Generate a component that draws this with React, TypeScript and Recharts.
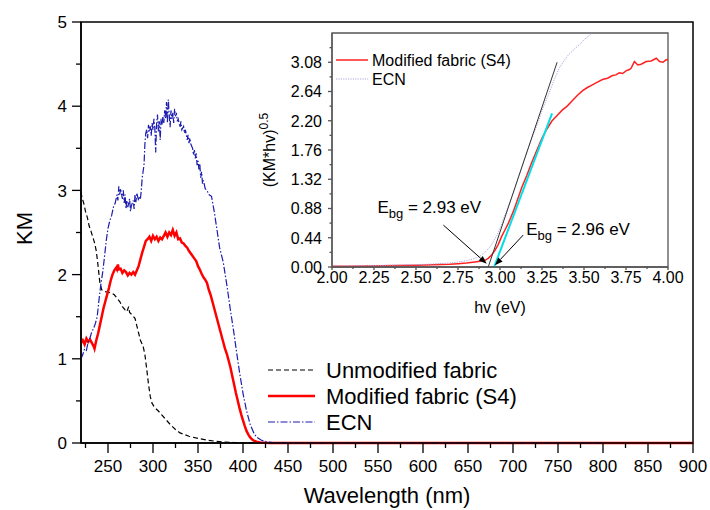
import { LineChart, Line, XAxis, YAxis, ReferenceArea, ReferenceLine, Legend, Label } from 'recharts';

const FONT = '"Liberation Sans", Arial, sans-serif';

// ---- main plot: KM vs wavelength ----
const wavelengthTicks = [250, 300, 350, 400, 450, 500, 550, 600, 650, 700, 750, 800, 850, 900];
const wavelengthMinorTicks = [225, 275, 325, 375, 425, 475, 525, 575, 625, 675, 725, 775, 825, 875];
const kmTicks = [0, 1, 2, 3, 4, 5];
const kmMinorTicks = [0.5, 1.5, 2.5, 3.5, 4.5];

// [wavelength nm, KM]
const unmodifiedFabric: [number, number][] = [
  [220, 2.98], [221, 2.92], [223, 2.85], [225, 2.75], [227, 2.68], [229, 2.58], [231, 2.52], [233, 2.45],
  [235, 2.38], [237, 2.28], [239, 2.1], [241, 1.9], [243, 1.82], [246, 1.8], [250, 1.79], [254, 1.78],
  [257, 1.76], [260, 1.72], [263, 1.68], [266, 1.62], [269, 1.58], [271, 1.56], [273, 1.62], [274, 1.55],
  [277, 1.52], [280, 1.48], [283, 1.35], [286, 1.22], [289, 1.15], [291, 1.05], [293, 0.88], [295, 0.7],
  [297, 0.55], [299, 0.47], [302, 0.42], [306, 0.38], [310, 0.33], [315, 0.27], [320, 0.21], [325, 0.16],
  [330, 0.12], [335, 0.1], [340, 0.08], [350, 0.055], [360, 0.035], [370, 0.02], [380, 0.012], [390, 0.006],
  [400, 0.003], [420, 0.001], [440, 0], [800, 0],
];

const modifiedFabric: [number, number][] = [
  [220, 1.19], [222, 1.22], [224, 1.17], [226, 1.24], [228, 1.2], [230, 1.23], [232, 1.19], [234, 1.15],
  [235, 1.12], [236, 1.17], [237, 1.22], [239, 1.3], [241, 1.4], [243, 1.5], [245, 1.6], [247, 1.68],
  [249, 1.76], [251, 1.84], [253, 1.93], [255, 2.0], [257, 2.05], [259, 2.08], [260, 2.06], [261, 2.12],
  [262, 2.06], [264, 2.07], [266, 2.02], [268, 2.05], [270, 2.03], [272, 1.99], [274, 2.02], [276, 2.0],
  [278, 2.03], [280, 2.0], [282, 2.05], [284, 2.1], [286, 2.18], [288, 2.26], [290, 2.33], [292, 2.4],
  [294, 2.42], [296, 2.45], [298, 2.4], [300, 2.46], [302, 2.42], [304, 2.45], [306, 2.4], [308, 2.44],
  [310, 2.42], [312, 2.46], [314, 2.5], [316, 2.45], [318, 2.5], [320, 2.47], [322, 2.53], [324, 2.46],
  [326, 2.5], [328, 2.42], [330, 2.43], [332, 2.38], [334, 2.37], [336, 2.34], [338, 2.32], [340, 2.28],
  [342, 2.25], [344, 2.22], [346, 2.19], [348, 2.16], [350, 2.1], [352, 2.06], [354, 2.01], [356, 1.97],
  [358, 1.94], [360, 1.9], [362, 1.82], [364, 1.76], [366, 1.68], [368, 1.6], [370, 1.52], [372, 1.44],
  [374, 1.36], [376, 1.28], [378, 1.2], [380, 1.12], [382, 1.06], [384, 0.98], [386, 0.9], [388, 0.8],
  [390, 0.7], [392, 0.6], [394, 0.51], [396, 0.42], [398, 0.34], [400, 0.27], [402, 0.2], [404, 0.14],
  [406, 0.1], [408, 0.066], [410, 0.044], [412, 0.028], [415, 0.015], [419, 0.006], [425, 0.002], [430, 0],
  [900, 0],
];

const ecn: [number, number][] = [
  [220, 1.0], [222, 1.05], [224, 1.12], [226, 1.1], [228, 1.2], [230, 1.25], [232, 1.32], [234, 1.36],
  [236, 1.42], [238, 1.5], [240, 1.7], [242, 1.88], [244, 2.02], [246, 2.2], [248, 2.4], [250, 2.55],
  [252, 2.64], [254, 2.7], [256, 2.8], [258, 2.85], [260, 2.95], [261, 2.88], [262, 3.05], [263, 2.95],
  [264, 3.02], [266, 2.9], [267, 3.0], [268, 2.85], [269, 2.95], [270, 2.78], [271, 2.88], [272, 2.8],
  [274, 2.9], [275, 2.75], [276, 2.82], [278, 2.88], [279, 2.78], [280, 2.95], [281, 2.86], [282, 2.97],
  [284, 2.88], [285, 2.92], [286, 2.9], [287, 3.0], [288, 3.15], [290, 3.3], [291, 3.55], [292, 3.68],
  [293, 3.72], [294, 3.62], [295, 3.78], [296, 3.7], [297, 3.76], [298, 3.65], [299, 3.8], [300, 3.72],
  [301, 3.85], [302, 3.75], [303, 3.45], [304, 3.8], [305, 3.9], [306, 3.7], [307, 3.82], [308, 3.6],
  [309, 3.85], [310, 3.78], [311, 3.88], [312, 3.8], [313, 3.95], [314, 3.85], [315, 4.05], [316, 3.8],
  [317, 4.08], [318, 3.9], [319, 3.75], [320, 3.95], [321, 3.85], [322, 3.92], [323, 3.8], [324, 3.97],
  [325, 3.88], [326, 3.92], [327, 3.82], [328, 3.85], [330, 3.75], [331, 3.82], [332, 3.72], [334, 3.76],
  [335, 3.68], [336, 3.72], [338, 3.6], [339, 3.66], [340, 3.56], [341, 3.62], [342, 3.55], [344, 3.5],
  [345, 3.42], [346, 3.48], [347, 3.38], [348, 3.44], [349, 3.3], [350, 3.35], [351, 3.25], [352, 3.32],
  [353, 3.15], [354, 3.22], [355, 3.08], [356, 3.12], [358, 3.02], [360, 3.0], [362, 2.95], [365, 2.93],
  [368, 2.75], [371, 2.54], [374, 2.32], [378, 2.15], [382, 1.88], [386, 1.58], [390, 1.3], [393, 1.07],
  [396, 0.85], [400, 0.59], [404, 0.38], [408, 0.22], [412, 0.12], [415, 0.07], [420, 0.035], [426, 0.015],
  [435, 0.003], [450, 0], [800, 0],
];

// ---- inset: (KM*hv)^0.5 vs hv ----
const hvTicks = [2, 2.25, 2.5, 2.75, 3, 3.25, 3.5, 3.75, 4];
const hvMinorTicks = [2.125, 2.375, 2.625, 2.875, 3.125, 3.375, 3.625, 3.875];
const taucTicks = [0, 0.44, 0.88, 1.32, 1.76, 2.2, 2.64, 3.08];
const taucMinorTicks = [0.22, 0.66, 1.1, 1.54, 1.98, 2.42, 2.86, 3.3];

const insetModified: [number, number][] = [
  [2.0, 0.01], [2.1, 0.012], [2.2, 0.015], [2.3, 0.018], [2.4, 0.022], [2.5, 0.027], [2.6, 0.033],
  [2.7, 0.042], [2.75, 0.05], [2.8, 0.06], [2.85, 0.075], [2.88, 0.085], [2.91, 0.1], [2.93, 0.13],
  [2.95, 0.18], [2.97, 0.25], [2.99, 0.34], [3.01, 0.46], [3.03, 0.56], [3.05, 0.66], [3.08, 0.84],
  [3.1, 0.98], [3.13, 1.2], [3.16, 1.38], [3.19, 1.58], [3.22, 1.76], [3.25, 1.94], [3.28, 2.08],
  [3.31, 2.2], [3.34, 2.28], [3.37, 2.36], [3.4, 2.42], [3.43, 2.5], [3.46, 2.58], [3.49, 2.65],
  [3.52, 2.7], [3.55, 2.74], [3.58, 2.78], [3.61, 2.82], [3.64, 2.84], [3.67, 2.88], [3.69, 2.89],
  [3.71, 2.92], [3.73, 2.91], [3.75, 2.95], [3.77, 2.97], [3.78, 2.99], [3.8, 3.09], [3.82, 3.04],
  [3.84, 3.05], [3.87, 3.09], [3.9, 3.1], [3.93, 3.14], [3.95, 3.09], [3.97, 3.08], [3.99, 3.12], [4.0, 3.11],
];

const insetEcn: [number, number][] = [
  [2.0, 0.012], [2.2, 0.02], [2.4, 0.03], [2.5, 0.035], [2.6, 0.045], [2.7, 0.06], [2.75, 0.075],
  [2.8, 0.095], [2.84, 0.12], [2.88, 0.16], [2.91, 0.22], [2.94, 0.3], [2.96, 0.38], [2.98, 0.47],
  [3.0, 0.58], [3.02, 0.72], [3.05, 0.92], [3.08, 1.12], [3.11, 1.36], [3.14, 1.58], [3.17, 1.8],
  [3.2, 2.0], [3.23, 2.2], [3.26, 2.42], [3.29, 2.6], [3.32, 2.8], [3.35, 2.98], [3.38, 3.1],
  [3.41, 3.2], [3.44, 3.27], [3.46, 3.32], [3.48, 3.36], [3.5, 3.42], [3.52, 3.46], [3.54, 3.5], [3.55, 3.52],
];

// linear fits used for the band gap
const ecnTangent: [number, number][] = [[2.93, 0], [3.34, 3.08]];
const s4Tangent: [number, number][] = [[2.965, 0], [3.31, 2.31]];

const bandGapValues = ['2.93', '2.96'];
const bandGapArrows: [number, number][][] = [
  [[2.663, 0.63], [2.921, 0.05]],
  [[3.138, 0.48], [2.97, 0.026]],
];
const bandGapTextOffsets = [[-66, -12], [3, 0]];

const toPoints = (arr: [number, number][]) => arr.map(([x, y]) => ({ x, y }));

const near = (list: number[], v: number) => list.some((t) => Math.abs(t - v) < 1e-6);

const mainSeries = [
  { name: 'Unmodified fabric', data: unmodifiedFabric, color: '#000000', width: 1.2, dash: '5 3' },
  { name: 'Modified fabric (S4)', data: modifiedFabric, color: '#ff0000', width: 2.5, dash: undefined },
  { name: 'ECN', data: ecn, color: '#1c1cb0', width: 1.2, dash: '7 2 1.5 2' },
];

const insetSeries = [
  { name: 'Modified fabric (S4)', data: insetModified, color: '#ff2020', width: 1.5, dash: undefined },
  { name: 'ECN', data: insetEcn, color: '#a8a8e0', width: 1, dash: '1.2 1.2' },
];

function makeBottomTick(majors: number[], size: number, margin: number, majorLen: number, minorLen: number,
  fontSize: number, color: string, fmt: (v: number) => string) {
  return (props: any) => {
    const { x, y, payload } = props;
    const axisY = y - size - margin;
    const major = near(majors, payload.value);
    return (
      <g>
        <line x1={x} x2={x} y1={axisY} y2={axisY + (major ? majorLen : minorLen)} stroke={color} strokeWidth={1.3} />
        {major && (
          <text x={x} y={y} dy="0.71em" textAnchor="middle" fontSize={fontSize} fontFamily={FONT} fill="#000">
            {fmt(payload.value)}
          </text>
        )}
      </g>
    );
  };
}

function makeLeftTick(majors: number[], size: number, margin: number, majorLen: number, minorLen: number,
  fontSize: number, color: string, fmt: (v: number) => string) {
  return (props: any) => {
    const { x, y, payload } = props;
    const axisX = x + size + margin;
    const major = near(majors, payload.value);
    return (
      <g>
        <line x1={axisX} x2={axisX - (major ? majorLen : minorLen)} y1={y} y2={y} stroke={color} strokeWidth={1.3} />
        {major && (
          <text x={x} y={y} dy="0.36em" textAnchor="end" fontSize={fontSize} fontFamily={FONT} fill="#000">
            {fmt(payload.value)}
          </text>
        )}
      </g>
    );
  };
}

const MainXTick = makeBottomTick(wavelengthTicks, 10, 7, 10, 5, 17, '#000', (v) => String(v));
const MainYTick = makeLeftTick(kmTicks, 9, 5, 9, 5, 17, '#000', (v) => String(v));
const InsetXTick = makeBottomTick(hvTicks, 3, 2, 3, 2, 16, '#555', (v) => v.toFixed(2));
const InsetYTick = makeLeftTick(taucTicks, 4, 6, 4, 2.5, 16, '#555', (v) => v.toFixed(2));

function MainLegend() {
  return (
    <svg width={260} height={80}>
      {mainSeries.map((s, i) => (
        <g key={s.name} transform={`translate(0, ${14 + i * 26})`}>
          <line x1={0} x2={47} y1={0} y2={0} stroke={s.color} strokeWidth={s.width} strokeDasharray={s.dash} />
          <text x={58} y={0} dy="0.35em" fontSize={22} fontFamily={FONT} fill="#000">{s.name}</text>
        </g>
      ))}
    </svg>
  );
}

function InsetLegend() {
  return (
    <svg width={220} height={45}>
      {insetSeries.map((s, i) => (
        <g key={s.name} transform={`translate(0, ${10 + i * 19})`}>
          <line x1={0} x2={32} y1={0} y2={0} stroke={s.color} strokeWidth={s.width} strokeDasharray={s.dash} />
          <text x={36} y={0} dy="0.35em" fontSize={16} fontFamily={FONT} fill="#000">{s.name}</text>
        </g>
      ))}
    </svg>
  );
}

const arrowShape = (i: number) => (props: any) => {
  const x1 = Number(props.x1), y1 = Number(props.y1), x2 = Number(props.x2), y2 = Number(props.y2);
  const ang = Math.atan2(y2 - y1, x2 - x1);
  const L = 8, W = 3;
  const bx = x2 - L * Math.cos(ang), by = y2 - L * Math.sin(ang);
  const pts = `${x2},${y2} ${bx - W * Math.sin(ang)},${by + W * Math.cos(ang)} ${bx + W * Math.sin(ang)},${by - W * Math.cos(ang)}`;
  const [dx, dy] = bandGapTextOffsets[i];
  return (
    <g>
      <line x1={x1} y1={y1} x2={bx} y2={by} stroke="#000" strokeWidth={1} />
      <polygon points={pts} fill="#000" />
      <text x={x1 + dx} y={y1 + dy} fontSize={17} fontFamily={FONT} fill="#000">
        E<tspan dy={5} fontSize={13}>bg</tspan><tspan dy={-5}>{` = ${bandGapValues[i]} eV`}</tspan>
      </text>
    </g>
  );
};

export default function App() {
  return (
    <div style={{ position: 'absolute', left: 0, top: 0, width: 710, height: 510, background: '#fff' }}>
      <LineChart width={710} height={510} margin={{ top: 22, right: 17, left: 0, bottom: 0 }}>
        <XAxis
          dataKey="x"
          type="number"
          domain={[220, 900]}
          ticks={[...wavelengthTicks, ...wavelengthMinorTicks].sort((a, b) => a - b)}
          interval={0}
          tickLine={false}
          tickSize={10}
          tickMargin={7}
          tick={MainXTick}
          axisLine={{ stroke: '#000', strokeWidth: 1.5 }}
          height={67}
        >
          <Label
            content={(p: any) => {
              const vb = p.viewBox;
              return (
                <text x={vb.x + vb.width / 2} y={vb.y + vb.height - 7} textAnchor="middle" fontSize={22} fontFamily={FONT} fill="#000">
                  Wavelength (nm)
                </text>
              );
            }}
          />
        </XAxis>
        <YAxis
          type="number"
          domain={[0, 5]}
          ticks={[...kmTicks, ...kmMinorTicks].sort((a, b) => a - b)}
          interval={0}
          tickLine={false}
          tickSize={9}
          tickMargin={5}
          tick={MainYTick}
          axisLine={{ stroke: '#000', strokeWidth: 1.5 }}
          width={81}
        >
          <Label
            content={(p: any) => {
              const vb = p.viewBox;
              const cx = vb.x + 32;
              const cy = vb.y + vb.height / 2 - 4;
              return (
                <text x={cx} y={cy} transform={`rotate(-90, ${cx}, ${cy})`} textAnchor="middle" fontSize={22} fontFamily={FONT} fill="#000">
                  KM
                </text>
              );
            }}
          />
        </YAxis>
        <ReferenceArea x1={220} x2={900} y1={0} y2={5} fill="none" stroke="#000" strokeWidth={1.5} />
        {mainSeries.map((s) => (
          <Line
            key={s.name}
            name={s.name}
            data={toPoints(s.data)}
            dataKey="y"
            type="linear"
            stroke={s.color}
            strokeWidth={s.width}
            strokeDasharray={s.dash}
            dot={false}
            isAnimationActive={false}
          />
        ))}
        <Legend
          content={MainLegend}
          layout="horizontal"
          verticalAlign="middle"
          align="center"
          wrapperStyle={{ left: 268, top: 356, width: 260, height: 80 }}
        />
      </LineChart>

      <div style={{ position: 'absolute', left: 250, top: 25 }}>
        <LineChart width={445} height={300} margin={{ top: 8, right: 27, left: 0, bottom: 0 }}>
          <XAxis
            dataKey="x"
            type="number"
            domain={[2, 4]}
            ticks={[...hvTicks, ...hvMinorTicks].sort((a, b) => a - b)}
            interval={0}
            tickLine={false}
            tickSize={3}
            tickMargin={2}
            tick={InsetXTick}
            axisLine={{ stroke: '#555', strokeWidth: 1.3 }}
            height={58}
          >
            <Label
              content={(p: any) => {
                const vb = p.viewBox;
                return (
                  <text x={vb.x + vb.width / 2} y={vb.y + 46} textAnchor="middle" fontSize={16} fontFamily={FONT} fill="#000">
                    hv (eV)
                  </text>
                );
              }}
            />
          </XAxis>
          <YAxis
            type="number"
            domain={[0, 3.52]}
            ticks={[...taucTicks, ...taucMinorTicks].sort((a, b) => a - b)}
            interval={0}
            tickLine={false}
            tickSize={4}
            tickMargin={6}
            tick={InsetYTick}
            axisLine={{ stroke: '#555', strokeWidth: 1.3 }}
            width={82}
          >
            <Label
              content={(p: any) => {
                const vb = p.viewBox;
                const cx = vb.x + 25;
                const cy = vb.y + vb.height / 2;
                return (
                  <text x={cx} y={cy} transform={`rotate(-90, ${cx}, ${cy})`} textAnchor="middle" fontSize={16} fontFamily={FONT} fill="#000">
                    (KM*hv)<tspan dy={-7} fontSize={12}>0.5</tspan>
                  </text>
                );
              }}
            />
          </YAxis>
          <ReferenceArea x1={2} x2={4} y1={0} y2={3.52} fill="none" stroke="#555" strokeWidth={1.3} />
          {insetSeries.map((s) => (
            <Line
              key={s.name}
              name={s.name}
              data={toPoints(s.data)}
              dataKey="y"
              type="linear"
              stroke={s.color}
              strokeWidth={s.width}
              strokeDasharray={s.dash}
              dot={false}
              isAnimationActive={false}
            />
          ))}
          <Line name="ECN fit" legendType="none" data={toPoints(ecnTangent)} dataKey="y" stroke="#333" strokeWidth={1} dot={false} isAnimationActive={false} />
          <Line name="S4 fit" legendType="none" data={toPoints(s4Tangent)} dataKey="y" stroke="#00e0e8" strokeWidth={2} dot={false} isAnimationActive={false} />
          {bandGapArrows.map((seg, i) => (
            <ReferenceLine
              key={i}
              segment={[{ x: seg[0][0], y: seg[0][1] }, { x: seg[1][0], y: seg[1][1] }]}
              shape={arrowShape(i)}
            />
          ))}
          <Legend
            content={InsetLegend}
            layout="horizontal"
            verticalAlign="middle"
            align="center"
            wrapperStyle={{ left: 86, top: 25, width: 220, height: 45 }}
          />
        </LineChart>
      </div>
    </div>
  );
}
